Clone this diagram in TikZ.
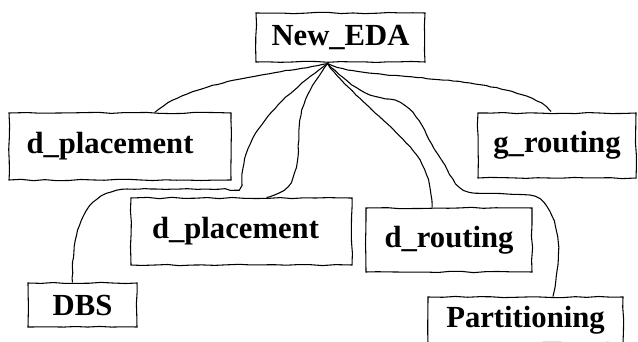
\documentclass[tikz,border=0pt]{standalone}
\usepackage{fontspec}
\setmainfont{Liberation Serif}
\usetikzlibrary{calc,decorations.pathmorphing}
\tikzstyle{block} = [rectangle, draw, line width=0.8pt, inner sep=0pt,
    font=\fontsize{23}{27}\selectfont\bfseries,
    decorate, decoration={random steps, segment length=9pt, amplitude=0.5pt}]
\tikzstyle{line} = [draw, line width=0.8pt,
    decorate, decoration={random steps, segment length=4pt, amplitude=0.3pt}]

\begin{document}
\begin{tikzpicture}[x=0.75pt, y=-0.75pt]
 \pgfmathsetseed{7}
 \useasboundingbox (0,0) rectangle (638,342);
 \clip (0,0) rectangle (638,342);
 \node[block, minimum width=126.75pt, minimum height=36.75pt] (eda) at (340.5,37.5) {New\_EDA};
 \node[block, minimum width=166.5pt, minimum height=50.25pt] (dpla) at (120,146.5) {d\_placement\hspace*{15pt}};
 \node[block, minimum width=118.5pt, minimum height=48.75pt] (grout) at (557,145.5) {g\_routing};
 \node[block, minimum width=165.75pt, minimum height=50.25pt] (dplb) at (241.5,231.5) {d\_placement\hspace*{9pt}};
 \node[block, minimum width=124.5pt, minimum height=48pt] (drout) at (449,240) {d\_routing};
 \node[block, minimum width=81.75pt, minimum height=33pt] (dbs) at (82.5,305) {DBS};
 \node[block, minimum width=146.25pt, minimum height=34.5pt] (part) at (525.5,320) {Partitioning};
 \coordinate (hub) at ($(eda.south)+(-13,1)$);

\path[line] (hub) .. controls (290,72) and (190,80) .. ($(dpla.north)+(35,0)$);
\path[line] (hub) .. controls (285,95) and (243,130) .. (242,180)
    .. controls (242,189) and (238,189) .. (230,189) -- (127,189)
    .. controls (85,192) and (72,225) .. ($(dbs.north)+(-10,0)$);
\path[line] (hub) .. controls (310,88) and (300,105) .. (299,130)
    .. controls (298,185) and (290,190) .. ($(dplb.north)+(25,0)$);
\path[line] (hub) .. controls (350,75) and (420,76) .. (470,83)
    .. controls (515,90) and (545,100) .. ($(grout.north)+(-7,0)$);
\path[line] (hub) .. controls (350,95) and (400,130) .. (420,160)
    .. controls (430,178) and (432,195) .. ($(drout.north)+(-17,0)$);
\path[line] (hub) .. controls (350,85) and (365,97) .. (390,99)
    .. controls (420,105) and (425,140) .. (445,165)
    .. controls (455,185) and (460,193) .. (480,193) -- (530,195)
    .. controls (555,200) and (560,240) .. (558,260)
    .. controls (557,280) and (554,290) .. ($(part.north)+(27.5,0)$);
\end{tikzpicture}
\end{document}
